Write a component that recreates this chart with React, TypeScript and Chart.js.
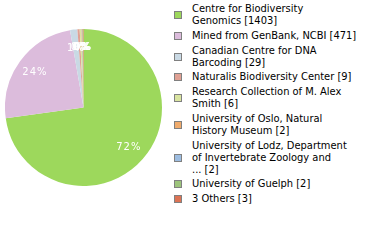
import React, { useEffect, useRef } from "react";
import { Chart, registerables } from "chart.js";

Chart.register(...registerables);

const categories = [
  "Centre for Biodiversity Genomics",
  "Mined from GenBank, NCBI",
  "Canadian Centre for DNA Barcoding",
  "Naturalis Biodiversity Center",
  "Research Collection of M. Alex Smith",
  "University of Oslo, Natural History Museum",
  "University of Lodz, Department of Invertebrate Zoology and ...",
  "University of Guelph",
  "3 Others",
];
const counts = [1403, 471, 29, 9, 6, 2, 2, 2, 3];
const colors = [
  "#9dd85c",
  "#dcbcdc",
  "#c9d9e4",
  "#e0a194",
  "#d9e4a0",
  "#f0ab6c",
  "#9dbde1",
  "#9dc47c",
  "#dc7354",
];

const WRAP_CHARS = 30;

function wrapLabel(name: string, count: number): string[] {
  const words = name.split(" ");
  const lines: string[] = [];
  let cur = "";
  for (const w of words) {
    const cand = cur ? cur + " " + w : w;
    if (cand.length > WRAP_CHARS && cur) {
      lines.push(cur);
      cur = w;
    } else {
      cur = cand;
    }
  }
  if (cur) lines.push(cur);
  lines[lines.length - 1] += " [" + count + "]";
  return lines;
}

const pctPlugin = {
  id: "pctLabels",
  afterDatasetsDraw(chart: any) {
    const ctx = chart.ctx;
    const meta = chart.getDatasetMeta(0);
    const data = chart.data.datasets[0].data as number[];
    const total = data.reduce((a, b) => a + b, 0);
    ctx.save();
    ctx.fillStyle = "#ffffff";
    ctx.font = "10px 'DejaVu Sans'";
    try {
      (ctx as any).letterSpacing = "1px";
    } catch (e) {}
    ctx.textAlign = "center";
    ctx.textBaseline = "middle";
    meta.data.forEach((arc: any, i: number) => {
      const p = arc.getProps(["x", "y", "startAngle", "endAngle", "outerRadius"], true);
      const mid = (p.startAngle + p.endAngle) / 2;
      const r = p.outerRadius * 0.765;
      const label = Math.floor((data[i] / total) * 100) + "%";
      ctx.fillText(label, p.x + Math.cos(mid) * r, p.y + Math.sin(mid) * r);
    });
    ctx.restore();
  },
};

export default function App() {
  const ref = useRef<HTMLCanvasElement | null>(null);
  useEffect(() => {
    if (!ref.current) return;
    const chart = new Chart(ref.current, {
      type: "pie",
      data: {
        labels: categories,
        datasets: [
          {
            data: counts,
            backgroundColor: colors,
            borderWidth: 0,
          },
        ],
      },
      options: {
        responsive: false,
        maintainAspectRatio: false,
        animation: false,
        layout: { padding: 0 },
        plugins: {
          legend: { display: false },
          tooltip: { enabled: false },
        },
      },
      plugins: [pctPlugin],
    });
    return () => chart.destroy();
  }, []);

  return (
    <div style={{ position: "absolute", left: 0, top: 0, width: 380, height: 240, background: "#fff" }}>
      <canvas
        ref={ref}
        width={157}
        height={157}
        style={{ position: "absolute", left: 5, top: 29, width: 157, height: 157 }}
      />
      <div
        style={{
          position: "absolute",
          left: 174,
          top: 3,
          height: 202,
          width: 204,
          display: "flex",
          flexDirection: "column",
          justifyContent: "space-between",
          fontFamily: "'DejaVu Sans Condensed', 'DejaVu Sans', sans-serif",
          fontSize: 11,
          lineHeight: "12px",
          color: "#000",
        }}
      >
        {categories.map((c, i) => (
          <div key={c} style={{ display: "flex", alignItems: "center" }}>
            <div
              style={{
                width: 8,
                height: 8,
                boxSizing: "border-box",
                border: "1px solid #808080",
                background: colors[i],
                marginRight: 10,
                flex: "none",
              }}
            />
            <div>
              {wrapLabel(c, counts[i]).map((l, j) => (
                <div key={j} style={{ whiteSpace: "nowrap" }}>
                  {l}
                </div>
              ))}
            </div>
          </div>
        ))}
      </div>
    </div>
  );
}
